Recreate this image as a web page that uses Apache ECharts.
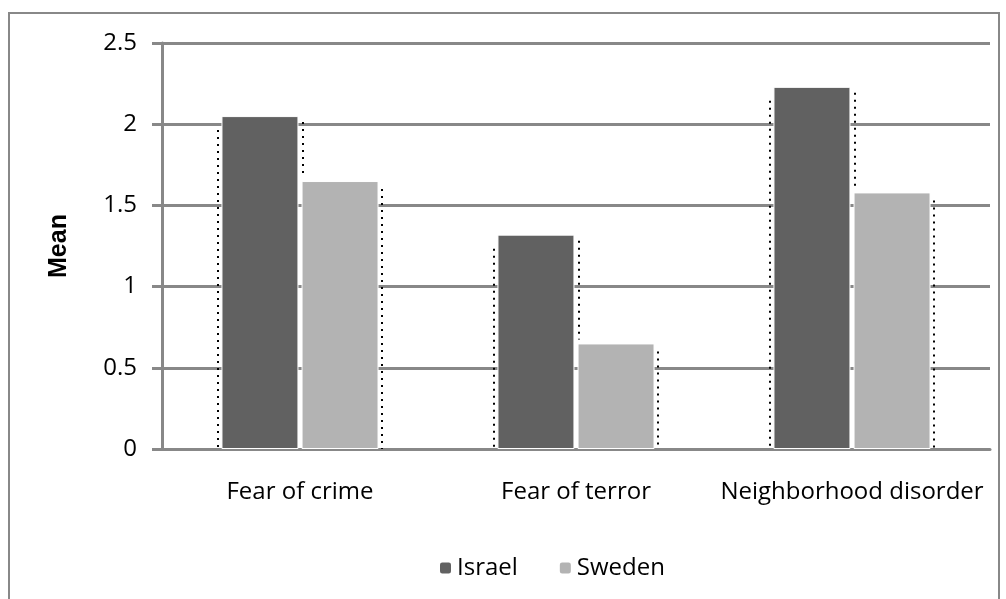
<!DOCTYPE html>
<html>
<head>
    <meta charset="utf-8">
    <title>Mean by country</title>
    <script src="https://cdn.jsdelivr.net/npm/echarts@6/dist/echarts.min.js"></script>
    <style>
    *{margin:0px; padding:0px;}
    body{background:#fff;}
    </style>
</head>
<body>
    <div id="main" style="width: 1006px;height:599px;"></div>
    <script type="text/javascript">
        var categories = ['Fear of crime', 'Fear of terror', 'Neighborhood disorder'];
        var israel = [2.05, 1.32, 2.23];
        var sweden = [1.65, 0.65, 1.58];
        var yTicks = [0, 0.5, 1, 1.5, 2, 2.5];

        var myChart = echarts.init(document.getElementById('main'));
        var font = '"Open Sans", "Noto Sans", sans-serif';
        var gridColor = '#888888';
        var barW = 77;

        // dotted outlines that sit around each pair of bars
        function renderDots(params, api) {
            var i = api.value(0);
            var base = api.coord([i, 0]);
            var topI = api.coord([i, api.value(1)]);
            var topS = api.coord([i, api.value(2)]);
            var cx = base[0];
            var style = {stroke: '#000', lineWidth: 2, lineDash: [2, 5]};
            return {
                type: 'group',
                children: [
                    {type: 'line', shape: {x1: cx - barW - 5, y1: topI[1] + 14, x2: cx - barW - 5, y2: base[1]}, style: style},
                    {type: 'line', shape: {x1: cx + 3, y1: topI[1] + 6, x2: cx + 3, y2: topS[1] - 4}, style: style},
                    {type: 'line', shape: {x1: cx + barW + 5, y1: topS[1] + 8, x2: cx + barW + 5, y2: base[1]}, style: style}
                ]
            };
        }

        var option = {
            animation: false,
            graphic: [{
                type: 'rect',
                shape: {x: 9, y: 13, width: 990, height: 600},
                style: {fill: 'none', stroke: gridColor, lineWidth: 2}
            }],
            grid: {left: 162, right: 16, top: 43, bottom: 150},
            legend: {
                bottom: 14,
                left: 433,
                itemWidth: 13,
                itemHeight: 13,
                itemGap: 40,
                textStyle: {fontFamily: font, fontSize: 24, color: '#000'},
                data: ['Israel', 'Sweden']
            },
            xAxis: {
                type: 'category',
                data: categories,
                axisLine: {lineStyle: {color: gridColor, width: 3}},
                axisTick: {length: 8, lineStyle: {color: gridColor, width: 3}},
                axisLabel: {fontFamily: font, fontSize: 24, color: '#000', margin: 31, interval: 0}
            },
            yAxis: {
                type: 'value',
                min: 0,
                max: yTicks[yTicks.length - 1],
                interval: 0.5,
                name: 'Mean',
                nameLocation: 'middle',
                nameGap: 90,
                nameTextStyle: {
                    fontFamily: '"Liberation Sans", Arial, sans-serif',
                    fontSize: 25,
                    fontWeight: 'bold',
                    color: '#000'
                },
                axisLine: {show: true, lineStyle: {color: gridColor, width: 3}},
                axisTick: {show: true, length: 10, lineStyle: {color: gridColor, width: 3}},
                axisLabel: {fontFamily: font, fontSize: 24, color: '#000', margin: 25},
                splitLine: {lineStyle: {color: gridColor, width: 3}}
            },
            series: [{
                name: 'Israel',
                type: 'bar',
                data: israel,
                barWidth: barW,
                barGap: '4%',
                itemStyle: {color: '#616161', borderColor: '#fff', borderWidth: 1}
            }, {
                name: 'Sweden',
                type: 'bar',
                data: sweden,
                barWidth: barW,
                itemStyle: {color: '#b3b3b3', borderColor: '#fff', borderWidth: 1}
            }, {
                type: 'custom',
                renderItem: renderDots,
                data: categories.map(function (c, i) { return [i, israel[i], sweden[i]]; }),
                z: 1,
                silent: true,
                tooltip: {show: false}
            }]
        };

        myChart.setOption(option);
    </script>
</body>
</html>
